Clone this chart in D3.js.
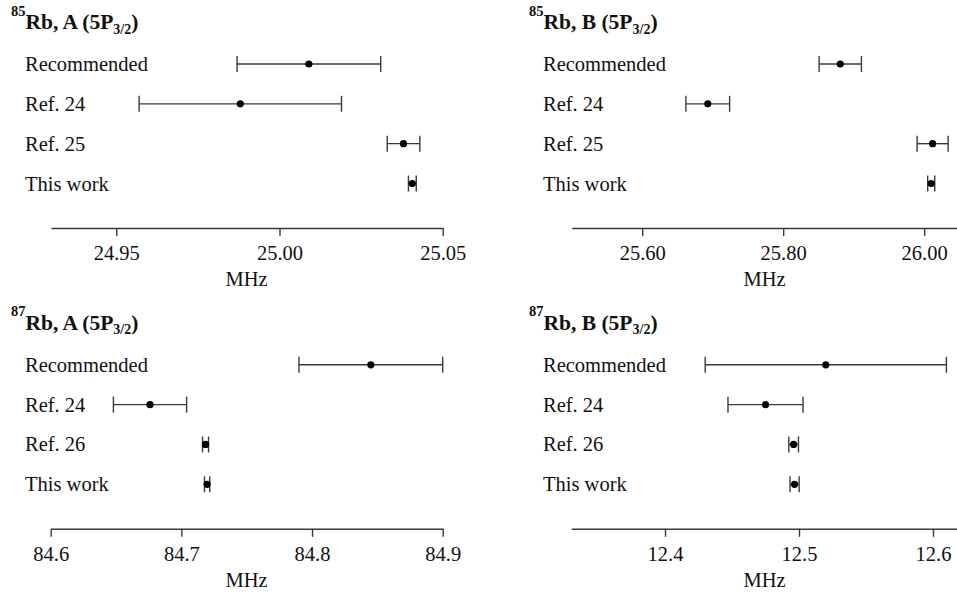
<!DOCTYPE html>
<html>
<head>
<meta charset="utf-8">
<script src="https://cdn.jsdelivr.net/npm/d3@7"></script>
<style>
  body { margin: 0; background: #fff; }
  svg { display: block; }
  text { font-family: "Liberation Serif", "Times New Roman", serif; fill: #111; }
</style>
</head>
<body>
<script>
const width = 957;
const height = 596;

// row labels
const rows85 = ["Recommended", "Ref. 24", "Ref. 25", "This work"];
const rows87 = ["Recommended", "Ref. 24", "Ref. 26", "This work"];

// 85Rb A (5P3/2), MHz
const a85Values = [25.009, 24.988, 25.038, 25.0407];
const a85Errors = [0.022, 0.031, 0.005, 0.0012];
const a85Ticks = [24.95, 25.00, 25.05];
const a85Domain = [24.93, 25.05];

// 85Rb B (5P3/2), MHz
const b85Values = [25.881, 25.693, 26.012, 26.010];
const b85Errors = [0.030, 0.031, 0.022, 0.005];
const b85Ticks = [25.60, 25.80, 26.00];
const b85Domain = [25.50, 26.05];

// 87Rb A (5P3/2), MHz
const a87Values = [84.845, 84.676, 84.7185, 84.7197];
const a87Errors = [0.055, 0.028, 0.0023, 0.002];
const a87Ticks = [84.6, 84.7, 84.8, 84.9];
const a87Domain = [84.6, 84.9];

// 87Rb B (5P3/2), MHz
const b87Values = [12.520, 12.475, 12.496, 12.4967];
const b87Errors = [0.090, 0.028, 0.0036, 0.0034];
const b87Ticks = [12.4, 12.5, 12.6];
const b87Domain = [12.33, 12.62];

const panels = [
  { iso: "85", param: "A", rows: rows85, values: a85Values, errors: a85Errors,
    ticks: a85Ticks, domain: a85Domain, fmt: ".2f",
    left: 0, top: 0, range: [51, 442.7] },
  { iso: "85", param: "B", rows: rows85, values: b85Values, errors: b85Errors,
    ticks: b85Ticks, domain: b85Domain, fmt: ".2f",
    left: 518, top: 0, range: [571.7, 959.4] },
  { iso: "87", param: "A", rows: rows87, values: a87Values, errors: a87Errors,
    ticks: a87Ticks, domain: a87Domain, fmt: ".1f",
    left: 0, top: 300.8, range: [50.7, 442.7] },
  { iso: "87", param: "B", rows: rows87, values: b87Values, errors: b87Errors,
    ticks: b87Ticks, domain: b87Domain, fmt: ".1f",
    left: 518, top: 300.8, range: [571.2, 959.8] },
];

const svg = d3.select("body")
  .append("svg")
  .attr("width", width)
  .attr("height", height);

const capHalf = 8;
const lineColor = "#3a3a3a";

panels.forEach(p => {
  const g = svg.append("g")
    .attr("transform", "translate(0," + p.top + ")");

  const x = d3.scaleLinear().domain(p.domain).range(p.range);
  const y = d3.scalePoint()
    .domain(d3.range(p.rows.length))
    .range([64, 183.5]);

  // title with superscript / subscript
  const title = g.append("text")
    .attr("x", p.left + 11)
    .attr("y", 15.5)
    .attr("font-weight", "bold");
  title.append("tspan").attr("font-size", 14.5).text(p.iso);
  title.append("tspan").attr("font-size", 21.5).attr("dy", 13.5)
    .text("Rb, " + p.param + " (5P");
  title.append("tspan").attr("font-size", 14).attr("dy", 4.5).text("3/2");
  title.append("tspan").attr("font-size", 21.5).attr("dy", -4.5).text(")");

  // row labels
  g.selectAll(".row-label")
    .data(p.rows)
    .enter()
    .append("text")
    .attr("class", "row-label")
    .attr("x", p.left + 25)
    .attr("y", (d, i) => y(i) + 7)
    .attr("font-size", 20.5)
    .text(d => d);

  const pts = p.values.map((v, i) => ({ v: v, e: p.errors[i], i: i }));

  // error bars
  const bars = g.selectAll(".bar")
    .data(pts)
    .enter()
    .append("g")
    .attr("class", "bar")
    .attr("stroke", lineColor)
    .attr("stroke-width", 1.4);

  bars.append("line")
    .attr("x1", d => x(d.v - d.e))
    .attr("x2", d => x(d.v + d.e))
    .attr("y1", d => y(d.i))
    .attr("y2", d => y(d.i));

  bars.append("line")
    .attr("x1", d => x(d.v - d.e))
    .attr("x2", d => x(d.v - d.e))
    .attr("y1", d => y(d.i) - capHalf)
    .attr("y2", d => y(d.i) + capHalf);

  bars.append("line")
    .attr("x1", d => x(d.v + d.e))
    .attr("x2", d => x(d.v + d.e))
    .attr("y1", d => y(d.i) - capHalf)
    .attr("y2", d => y(d.i) + capHalf);

  g.selectAll(".dot")
    .data(pts)
    .enter()
    .append("circle")
    .attr("class", "dot")
    .attr("cx", d => x(d.v))
    .attr("cy", d => y(d.i))
    .attr("r", 3.6)
    .attr("fill", "#000");

  // axis
  const axisY = 228;
  const axis = d3.axisBottom(x)
    .tickValues(p.ticks)
    .tickFormat(d3.format(p.fmt))
    .tickSize(8)
    .tickSizeOuter(0)
    .tickPadding(9.5);

  const ag = g.append("g")
    .attr("transform", "translate(0," + axisY + ")")
    .call(axis);
  ag.select(".domain").attr("stroke", lineColor).attr("stroke-width", 1.4);
  ag.selectAll(".tick line").attr("stroke", lineColor).attr("stroke-width", 1.4);
  ag.selectAll(".tick text")
    .attr("font-size", 20.5)
    .attr("fill", "#111");

  g.append("text")
    .attr("x", p.left + 246.5)
    .attr("y", 286)
    .attr("text-anchor", "middle")
    .attr("font-size", 20.5)
    .text("MHz");
});
</script>
</body>
</html>
